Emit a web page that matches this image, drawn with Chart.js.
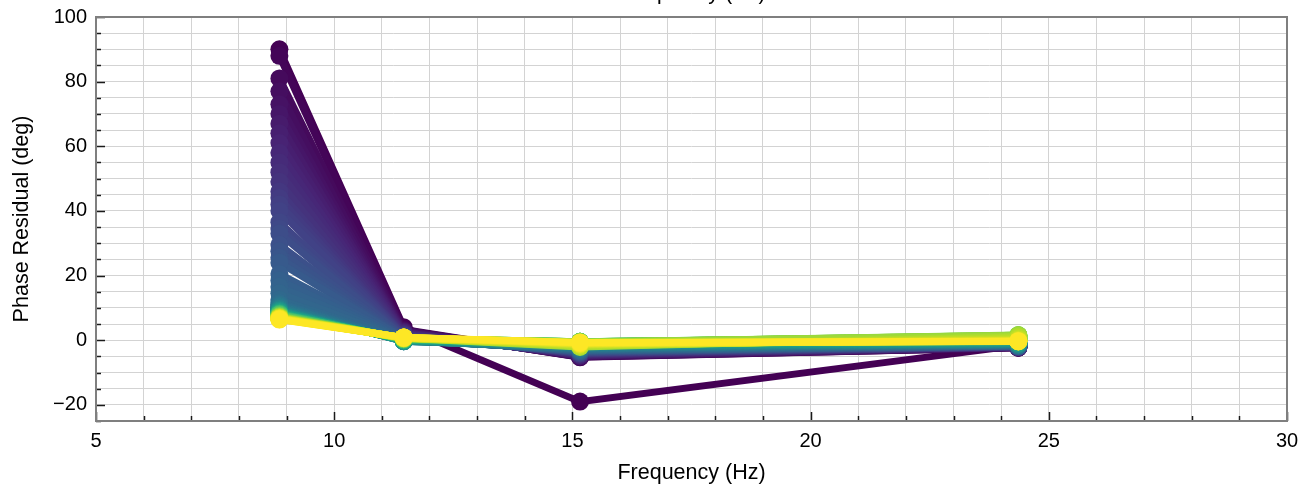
<!DOCTYPE html>
<html>
<head>
<meta charset="utf-8">
<script src="https://cdn.jsdelivr.net/npm/chart.js@4.4.1/dist/chart.umd.min.js"></script>
<style>
  html, body { margin: 0; padding: 0; background: #fff; }
  #wrap { width: 1300px; height: 487px; }
</style>
</head>
<body>
<div id="wrap"><canvas id="c" width="1300" height="487"></canvas></div>
<script>
// Frequencies of the four measurement points (Hz)
const freqs = [8.85, 11.46, 15.16, 24.36];

// Phase residual (deg) of every curve at each frequency, curve order = colour order (dark -> yellow)
const phaseAtF1 = [90, 88, 81, 77, 73, 70, 67, 64, 61, 58, 55, 52, 49,
  46, 44, 42, 40, 36.5, 34.5, 33, 29.5, 27.5, 25.5, 24, 20.5, 18.5, 16.5, 14.5, 12.5,
  11.5, 11.1, 10.7, 10.4, 10.1, 9.9, 9.7, 9.55, 9.4, 9.3, 9.2, 9.1, 9.0, 8.9,
  8.8, 8.72, 8.64, 8.56, 8.48, 8.4, 8.34, 8.28, 8.22, 8.16, 8.1, 8.05, 8.0, 7.95, 7.9, 7.85,
  7.8, 7.7, 7.6, 7.5, 7.45, 7.4, 7.35, 7.3, 7.25, 7.2, 7.15, 7.1, 7.05, 7.0, 6.95, 6.9,
  6.85, 6.8, 6.75, 6.7, 6.65, 6.6, 6.5, 6.4];
const phaseAtF2 = [4.0,
  3.3, 3.1, 3.0, 2.8, 2.7, 2.5, 2.4, 2.2, 2.1, 1.9, 1.8, 1.6,
  1.5, 1.4, 1.3, 1.2, 1.1, 1.0, 0.9, 0.8, 0.7, 0.6, 0.5, 0.4, 0.3, 0.2, 0.1, 0.0,
  0.0, -0.1, -0.1, -0.2, -0.2, -0.3, -0.3, -0.3, -0.3, -0.2, -0.2, -0.2, -0.1, -0.1,
  -0.1, 0.0, 0.0, 0.0, 0.1, 0.1, 0.1, 0.2, 0.2, 0.2, 0.3, 0.3, 0.3, 0.3, 0.4, 0.4,
  0.4, 0.4, 0.5, 0.5, 0.5, 0.5, 0.5, 0.6, 0.6, 0.6, 0.6, 0.6, 0.6, 0.7, 0.7, 0.7,
  0.7, 0.7, 0.7, 0.8, 0.8, 0.8, 0.8, 0.8];
const phaseAtF3 = [-19,
  -5.3, -5.2, -5.1, -5.0, -4.9, -4.8, -4.7, -4.6, -4.5, -4.4, -4.3, -4.2,
  -4.1, -4.0, -3.95, -3.9, -3.8, -3.7, -3.65, -3.6, -3.5, -3.4, -3.35, -3.3, -3.2, -3.1, -3.0, -2.9,
  -2.8, -2.7, -2.6, -2.5, -2.4, -2.3, -2.2, -2.1, -2.0, -2.0, -1.9, -1.8, -1.7, -1.6,
  -1.5, -1.5, -1.4, -1.3, -1.3, -1.2, -1.1, -1.1, -1.0, -0.9, -0.9, -0.8, -0.7, -0.7, -0.6, -0.6,
  -0.5, -0.5, -0.5, -0.5, -0.5, -0.5, -0.6, -0.6, -0.6, -0.6, -0.7, -0.7,
  -2.1, -1.9, -1.7, -1.6, -1.4, -1.3, -1.2, -1.1, -1.0, -0.9, -0.8, -0.7];
const phaseAtF4 = [-1.6,
  -2.3, -2.3, -2.3, -2.2, -2.2, -2.2, -2.2, -2.1, -2.1, -2.1, -2.1, -2.0,
  -2.0, -2.0, -2.0, -1.9, -1.9, -1.9, -1.85, -1.8, -1.8, -1.8, -1.75, -1.7, -1.7, -1.7, -1.6, -1.6,
  -1.5, -1.5, -1.4, -1.4, -1.3, -1.3, -1.2, -1.2, -1.1, -1.1, -1.0, -1.0, -0.9, -0.9,
  -0.8, -0.7, -0.6, -0.5, -0.4, -0.3, -0.2, -0.1, 0.0, 0.1, 0.2, 0.3, 0.4, 0.5, 0.6, 0.7,
  0.8, 0.9, 1.0, 1.1, 1.2, 1.3, 1.4, 1.5, 1.5, 1.6, 1.5, 1.4,
  1.2, 1.0, 0.7, 0.4, 0.2, 0.0, -0.1, -0.2, -0.3, -0.3, -0.4, -0.3];

// Axis tick settings
const xMajorTicks = [5, 10, 15, 20, 25, 30];
const yMajorTicks = [-20, 0, 20, 40, 60, 80, 100];

const xLabel = 'Frequency (Hz)';
const yLabel = 'Phase Residual (deg)';

// Viridis colormap stops
const viridisStops = ['#440154', '#482475', '#414487', '#355f8d', '#2a788e', '#21918c',
  '#22a884', '#44bf70', '#7ad151', '#bddf26', '#fde725'];
function hexToRgb(h) { return [parseInt(h.slice(1,3),16), parseInt(h.slice(3,5),16), parseInt(h.slice(5,7),16)]; }
function viridis(t) {
  const n = viridisStops.length - 1;
  const p = Math.min(Math.max(t, 0), 1) * n;
  const i = Math.min(Math.floor(p), n - 1);
  const f = p - i;
  const a = hexToRgb(viridisStops[i]), b = hexToRgb(viridisStops[i + 1]);
  const c = a.map((v, k) => Math.round(v + (b[k] - v) * f));
  return `rgb(${c[0]},${c[1]},${c[2]})`;
}

const N = phaseAtF1.length;
const datasets = [];
for (let i = 0; i < N; i++) {
  const col = viridis(i / (N - 1));
  const vals = [phaseAtF1[i], phaseAtF2[i], phaseAtF3[i], phaseAtF4[i]];
  datasets.push({
    data: freqs.map((f, k) => ({ x: f, y: vals[k] })),
    borderColor: col,
    backgroundColor: col,
    pointBackgroundColor: col,
    pointBorderWidth: 0,
    pointRadius: 9,
    pointHoverRadius: 9,
    borderWidth: 7,
    tension: 0,
    order: N - i,
    clip: false
  });
}

const FONT = "'Liberation Sans', Arial, Helvetica, sans-serif";
Chart.defaults.font.family = FONT;
Chart.defaults.color = '#000';

const framePlugin = {
  id: 'framePlugin',
  afterDraw(chart) {
    const { ctx, chartArea: a, scales: { x, y } } = chart;
    ctx.save();
    // inward ticks
    ctx.strokeStyle = '#1a1a1a';
    ctx.lineWidth = 1.5;
    x.ticks.forEach(t => {
      const px = Math.round(x.getPixelForValue(t.value)) + 0.5;
      const len = xMajorTicks.includes(t.value) ? 9 : 5;
      ctx.beginPath(); ctx.moveTo(px, a.bottom); ctx.lineTo(px, a.bottom - len); ctx.stroke();
    });
    y.ticks.forEach(t => {
      const py = Math.round(y.getPixelForValue(t.value)) + 0.5;
      const len = yMajorTicks.includes(t.value) ? 9 : 5;
      ctx.beginPath(); ctx.moveTo(a.left, py); ctx.lineTo(a.left + len, py); ctx.stroke();
    });
    // frame
    ctx.strokeStyle = '#7f7f7f';
    ctx.lineWidth = 2;
    ctx.strokeRect(a.left, a.top, a.right - a.left, a.bottom - a.top);
    // top title, mostly outside the canvas
    ctx.fillStyle = '#000';
    ctx.font = '21.5px ' + FONT;
    ctx.textAlign = 'center';
    ctx.textBaseline = 'alphabetic';
    ctx.fillText(xLabel, (a.left + a.right) / 2, -1);
    ctx.restore();
  }
};

const fmt = v => (v < 0 ? '\u2212' + Math.abs(v) : String(v));

new Chart(document.getElementById('c'), {
  type: 'line',
  data: { datasets },
  options: {
    responsive: false,
    animation: false,
    events: [],
    layout: { padding: { top: 17, right: 13, left: 0, bottom: 0 } },
    plugins: { legend: { display: false }, tooltip: { enabled: false }, title: { display: false } },
    scales: {
      x: {
        type: 'linear',
        min: 5, max: 30,
        afterFit: s => { s.height = 66; s.paddingLeft = 0; s.paddingRight = 0; },
        ticks: {
          stepSize: 1, autoSkip: false, maxRotation: 0, padding: 8,
          font: { size: 20 },
          callback: v => (xMajorTicks.includes(v) ? fmt(v) : '')
        },
        grid: { color: '#d3d3d3', lineWidth: 1, drawTicks: false },
        border: { display: false },
        title: { display: true, text: xLabel, font: { size: 21.5 }, padding: { top: 0, bottom: 1 } }
      },
      y: {
        type: 'linear',
        min: -25, max: 100,
        afterFit: s => { s.width = 96; s.paddingTop = 0; s.paddingBottom = 0; },
        ticks: {
          stepSize: 5, autoSkip: false, padding: 9,
          font: { size: 20 },
          callback: v => (yMajorTicks.includes(v) ? fmt(v) : '')
        },
        grid: { color: '#d3d3d3', lineWidth: 1, drawTicks: false },
        border: { display: false },
        title: { display: true, text: yLabel, font: { size: 21.5 }, padding: { top: 9, bottom: 0 } }
      }
    }
  },
  plugins: [framePlugin]
});
</script>
</body>
</html>
